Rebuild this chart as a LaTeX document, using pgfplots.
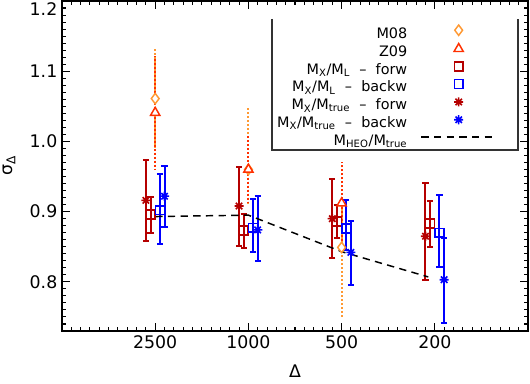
\documentclass[border=0pt]{standalone}
\usepackage{pgfplots}
\pgfplotsset{compat=1.18}
\usepackage{fontspec}
\setmainfont{DejaVu Sans}

\definecolor{cM}{RGB}{255,153,51}
\definecolor{cZ}{RGB}{255,48,0}
\definecolor{cF}{RGB}{181,0,0}
\definecolor{cB}{RGB}{0,0,255}

% IDL-like asterisk: plus and cross together
\pgfdeclareplotmark{ast8}{%
  \pgfpathmoveto{\pgfqpoint{-\pgfplotmarksize}{0pt}}\pgfpathlineto{\pgfqpoint{\pgfplotmarksize}{0pt}}%
  \pgfpathmoveto{\pgfqpoint{0pt}{-\pgfplotmarksize}}\pgfpathlineto{\pgfqpoint{0pt}{\pgfplotmarksize}}%
  \pgfpathmoveto{\pgfqpoint{-.707\pgfplotmarksize}{-.707\pgfplotmarksize}}\pgfpathlineto{\pgfqpoint{.707\pgfplotmarksize}{.707\pgfplotmarksize}}%
  \pgfpathmoveto{\pgfqpoint{-.707\pgfplotmarksize}{.707\pgfplotmarksize}}\pgfpathlineto{\pgfqpoint{.707\pgfplotmarksize}{-.707\pgfplotmarksize}}%
  \pgfusepathqstroke}

\pgfplotsset{
  legmark/.style={legend image code/.code={\draw[##1] plot coordinates {(0pt,3.4pt)};}},
  legline/.style={legend image code/.code={\draw[##1] (-28pt,3.4pt) -- (28pt,3.4pt);}},
  solidbars/.style={error bars/.cd, y dir=both, y explicit,
    error bar style={line width=1.5pt, solid, draw=#1},
    error mark options={rotate=90, mark size=2.3pt, line width=1.5pt, solid, draw=#1}},
  dotbars/.style={error bars/.cd, y dir=both, y explicit, error mark=none,
    error bar style={line width=1.5pt, dash pattern=on 1.5pt off 1.5pt, draw=#1}},
}

\begin{document}
\begin{tikzpicture}
\useasboundingbox (0,0) rectangle (397.5pt,288pt);
\begin{axis}[
  at={(46.5pt,39.75pt)}, anchor=south west,
  width=349.5pt, height=247.5pt, scale only axis,
  xmin=-1, xmax=4, ymin=0.73, ymax=1.2,
  xtick={0,1,2,3}, xticklabels={2500,1000,500,200},
  minor xtick={-1,-0.9,...,4},
  ytick={0.8,0.9,1.0,1.1},
  extra y ticks={1.2},
  extra y tick style={tick label style={yshift=-6pt}},
  minor ytick={0.73,0.74,...,1.2},
  yticklabel style={/pgf/number format/.cd, fixed, fixed zerofill, precision=1},
  /pgf/number format/assume math mode=true,
  tick label style={font=\fontsize{13}{15}\selectfont},
  tick align=inside, major tick length=6pt, minor tick length=3pt,
  tick style={black, line width=0.8pt},
  axis line style={line width=1pt},
  xlabel={Δ}, ylabel={σ\textsubscript{Δ}},
  every axis x label/.style={at={(axis description cs:0.5,-0.1212)}, anchor=center,
    font=\fontsize{13}{15}\selectfont},
  every axis y label/.style={at={(axis description cs:-0.1137,0.5)}, anchor=center,
    rotate=90, font=\fontsize{13}{15}\selectfont},
  legend plot pos=right,
  legend cell align=right,
  legend style={draw=none, fill=none, at={(rel axis cs:0.9335,0.928)}, anchor=north east,
    inner sep=0pt, column sep=10pt, row sep=0pt,
    font=\fontsize{10.8}{12}\selectfont,
    nodes={inner sep=0pt, text height=9pt, text depth=4.1pt}},
]

\addplot[cM, only marks, mark=diamond*, mark size=3.9pt, line width=1.1pt,
  mark options={fill=white}, legmark, dotbars=cM]
  table[x=x, y=y, y error plus=ep, y error minus=em] {
x y ep em
0 1.061 0.071 0.070
1 0.960 0.091 0.050
2 0.849 0.122 0.099
};
\addlegendentry{M08}

\addplot[cZ, only marks, mark=triangle*, mark size=4pt, line width=1.1pt,
  mark options={fill=white}, legmark, dotbars=cZ]
  table[x=x, y=y, y error plus=ep, y error minus=em] {
x y ep em
0 1.041 0.080 0.081
1 0.960 0.050 0.047
2 0.912 0.058 0.058
};
\addlegendentry{Z09}

\addplot[cF, only marks, mark=square, mark size=3.3pt, line width=1.1pt, legmark, solidbars=cF]
  table[x=x, y=y, y error plus=ep, y error minus=em] {
x y ep em
-0.05 0.896 0.025 0.027
0.95 0.873 0.023 0.025
1.95 0.886 0.024 0.023
2.95 0.883 0.032 0.033
};
\addlegendentry{M\textsubscript{X}/M\textsubscript{L} ~–~ forw}

\addplot[cB, only marks, mark=square, mark size=3.3pt, line width=1.1pt, legmark, solidbars=cB]
  table[x=x, y=y, y error plus=ep, y error minus=em] {
x y ep em
0.05 0.902 0.052 0.048
1.05 0.877 0.041 0.035
2.05 0.876 0.040 0.031
3.05 0.870 0.053 0.049
};
\addlegendentry{M\textsubscript{X}/M\textsubscript{L} ~–~ backw}

\addplot[cF, only marks, mark=ast8, mark size=3.4pt, line width=1.2pt, legmark, solidbars=cF]
  table[x=x, y=y, y error plus=ep, y error minus=em] {
x y ep em
-0.1 0.916 0.058 0.058
0.9 0.908 0.055 0.057
1.9 0.890 0.056 0.056
2.9 0.865 0.076 0.063
};
\addlegendentry{M\textsubscript{X}/M\textsubscript{true} ~–~ forw}

\addplot[cB, only marks, mark=ast8, mark size=3.4pt, line width=1.2pt, legmark, solidbars=cB]
  table[x=x, y=y, y error plus=ep, y error minus=em] {
x y ep em
0.1 0.922 0.043 0.044
1.1 0.874 0.048 0.045
2.1 0.842 0.044 0.046
3.1 0.803 0.060 0.061
};
\addlegendentry{M\textsubscript{X}/M\textsubscript{true} ~–~ backw}

\addplot[black, line width=1.1pt, dash pattern=on 5.5pt off 4pt, legline]
  coordinates {(0,0.893) (1,0.895) (2,0.843) (2.93,0.807)};
\addlegendentry{M\textsubscript{HEO}/M\textsubscript{true}}

\draw[black!80, line width=0.8pt] (rel axis cs:0.4506,0.9455) -- (rel axis cs:0.4506,0.5485)
  -- (rel axis cs:0.9785,0.5485) -- (rel axis cs:0.9785,0.9455);
\end{axis}
\end{tikzpicture}
\end{document}
